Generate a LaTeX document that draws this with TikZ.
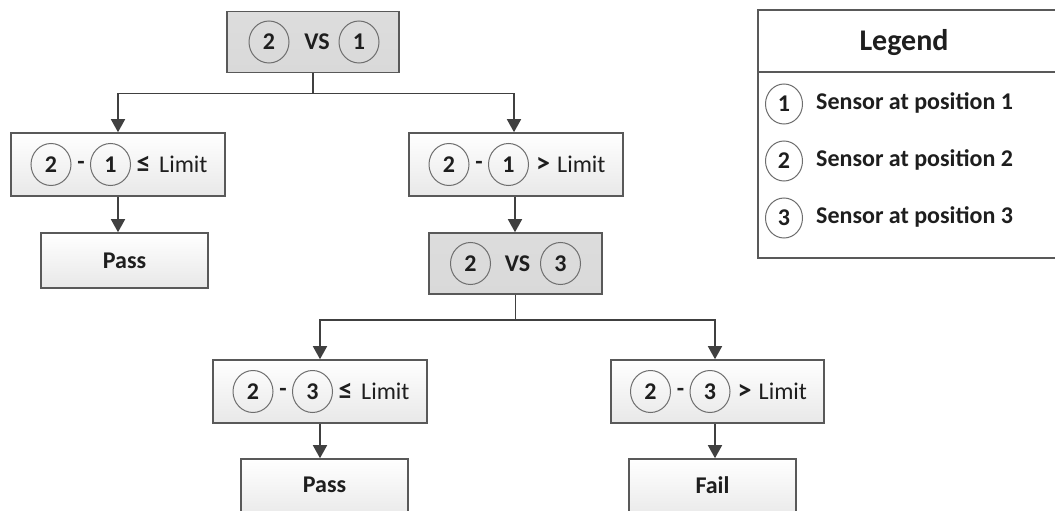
\documentclass[tikz,border=0pt]{standalone}
\usepackage{fontspec}
\setmainfont{Carlito}
\usetikzlibrary{arrows.meta,shapes.geometric}
\definecolor{edgec}{HTML}{595959}
\definecolor{linec}{HTML}{404040}
\definecolor{txt}{HTML}{1E1E1E}
\definecolor{boxgray}{HTML}{D9D9D9}
\definecolor{circc}{HTML}{6E6E6E}
\tikzset{
  lightbox/.style={draw=edgec,line width=1.6pt,top color=white,bottom color=black!9,inner sep=0pt},
  graybox/.style={draw=edgec,line width=1.6pt,top color=boxgray!90,bottom color=boxgray,inner sep=0pt},
  num/.style={ellipse,draw=circc,line width=1pt,minimum width=40pt,minimum height=42pt,inner sep=0pt,
              font=\fontsize{24}{24}\selectfont\bfseries,text=txt},
  lnum/.style={num,minimum width=37pt,minimum height=40pt},
  lbl/.style={inner sep=0pt,font=\fontsize{24}{24}\selectfont,text=txt},
  blbl/.style={lbl,font=\fontsize{24}{24}\selectfont\bfseries},
  sym/.style={lbl,font=\fontsize{28}{28}\selectfont\bfseries},
  conn/.style={draw=linec,line width=1.6pt},
  arr/.style={conn,-{Triangle[width=14pt,length=13pt]}},
}
\begin{document}
\begin{tikzpicture}[x=1pt,y=-1pt]
\useasboundingbox (0,0) rectangle (1055,511);
\clip (0,0) rectangle (1055,511);
\fill[white] (0,0) rectangle (1055,511);

% boxes
\node[graybox,minimum width=172pt,minimum height=61pt] (top) at (313,42) {};
\node[lightbox,minimum width=214pt,minimum height=63pt] (L1) at (118,164.5) {};
\node[lightbox,minimum width=214pt,minimum height=63pt] (R1) at (516,164.5) {};
\node[lightbox,minimum width=167pt,minimum height=55pt] (P1) at (124.5,260.5) {};
\node[graybox,minimum width=173pt,minimum height=61pt] (V3) at (515.5,263.5) {};
\node[lightbox,minimum width=214pt,minimum height=63pt] (L2) at (320,391.5) {};
\node[lightbox,minimum width=213pt,minimum height=63pt] (R2) at (717.5,391.5) {};
\node[lightbox,minimum width=167pt,minimum height=61pt] (P2) at (324.5,489.5) {};
\node[lightbox,minimum width=167pt,minimum height=61pt] (F) at (712.5,489.5) {};

% top box content
\node[num,xshift=-44pt] (t2) at (top) {2};
\node[blbl,xshift=4pt] (tvs) at (top) {VS};
\node[num,xshift=46pt] (t1) at (top) {1};

% V3 content
\node[num,xshift=-45pt] (v2) at (V3) {2};
\node[blbl,xshift=2pt] (vvs) at (V3) {VS};
\node[num,xshift=45pt] (v3) at (V3) {3};

% L1 content
\node[num,xshift=-67pt] (l1a) at (L1) {2};
\node[blbl,xshift=-37pt,yshift=-1pt] (l1m) at (L1) {-};
\node[num,xshift=-7.5pt] (l1b) at (L1) {1};
\node[sym,xshift=25.5pt] (l1s) at (L1) {≤};
\node[lbl,anchor=west,xshift=41pt] (l1t) at (L1) {Limit};

% R1 content
\node[num,xshift=-67pt] (r1a) at (R1) {2};
\node[blbl,xshift=-37pt,yshift=-1pt] (r1m) at (R1) {-};
\node[num,xshift=-7.5pt] (r1b) at (R1) {1};
\node[sym,xshift=27pt] (r1s) at (R1) {>};
\node[lbl,anchor=west,xshift=41pt] (r1t) at (R1) {Limit};

% L2 content
\node[num,xshift=-67pt] (l2a) at (L2) {2};
\node[blbl,xshift=-37pt,yshift=-1pt] (l2m) at (L2) {-};
\node[num,xshift=-7.5pt] (l2b) at (L2) {3};
\node[sym,xshift=25.5pt] (l2s) at (L2) {≤};
\node[lbl,anchor=west,xshift=41pt] (l2t) at (L2) {Limit};

% R2 content
\node[num,xshift=-67pt] (r2a) at (R2) {2};
\node[blbl,xshift=-37pt,yshift=-1pt] (r2m) at (R2) {-};
\node[num,xshift=-7.5pt] (r2b) at (R2) {3};
\node[sym,xshift=27pt] (r2s) at (R2) {>};
\node[lbl,anchor=west,xshift=41pt] (r2t) at (R2) {Limit};

% results
\node[blbl] (p1t) at (P1) {Pass};
\node[blbl,yshift=4.5pt] (p2t) at (P2) {Pass};
\node[blbl,yshift=4.5pt] (ft) at (F) {Fail};

% connectors
\coordinate (j1) at ([yshift=-20pt]top.south);
\draw[conn] (top.south) -- (j1);
\draw[arr] (j1) -| (L1.north);
\draw[arr] (j1) -| ([xshift=-2pt]R1.north);
\draw[arr] (L1.south) -- (L1.south |- P1.north);
\draw[arr] ([xshift=-1pt]R1.south) -- ([xshift=-1pt]R1.south |- V3.north);
\coordinate (j2) at ([yshift=-25pt]V3.south);
\draw[conn] (V3.south) -- (j2);
\draw[arr] (j2) -| (L2.north);
\draw[arr] (j2) -| ([xshift=-2.5pt]R2.north);
\draw[arr] (L2.south) -- (L2.south |- P2.north);
\draw[arr] ([xshift=-2.5pt]R2.south) -- ([xshift=-2.5pt]R2.south |- F.north);

% legend
\node[draw=edgec,line width=1.6pt,fill=white,minimum width=320pt,minimum height=248pt,inner sep=0pt,anchor=south west] (leg) at (757,259) {};
\coordinate (dl) at (757,72);
\coordinate (dr) at (1080,72);
\draw[edgec,line width=1.6pt] (dl) -- (dr);
\node[inner sep=0pt,font=\fontsize{30}{30}\selectfont\bfseries,text=txt] (legt) at (904,43) {Legend};
\node[lnum] (g1) at (784,104) {1};
\node[lnum] (g2) at (784,161) {2};
\node[lnum] (g3) at (784,218) {3};
\node[blbl,anchor=west] (g1t) at (816,103) {Sensor at position 1};
\node[blbl,anchor=west] (g2t) at (816,160) {Sensor at position 2};
\node[blbl,anchor=west] (g3t) at (816,217) {Sensor at position 3};
\end{tikzpicture}
\end{document}
